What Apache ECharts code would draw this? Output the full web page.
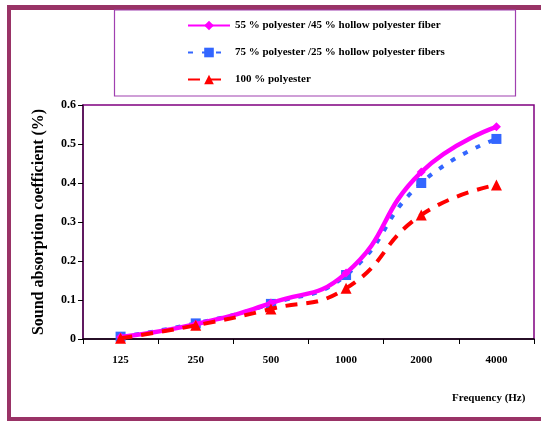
<!DOCTYPE html>
<html>
<head>
<meta charset="utf-8">
<script src="https://cdn.jsdelivr.net/npm/echarts@6/dist/echarts.min.js"></script>
<style>
  html, body { margin: 0; padding: 0; background: #fff; }
  #myChart { width: 541px; height: 421px; }
</style>
</head>
<body>
<div id="myChart"></div>
<script>
// chart data
var frequencies = ["125", "250", "500", "1000", "2000", "4000"];
var blend55 = [0.005, 0.038, 0.092, 0.169, 0.428, 0.544];
var blend75 = [0.006, 0.040, 0.090, 0.164, 0.400, 0.513];
var polyester100 = [0.002, 0.035, 0.077, 0.130, 0.318, 0.395];
var seriesNames = [
  "55 % polyester /45 % hollow polyester fiber",
  "75 % polyester /25 % hollow polyester fibers",
  "100 % polyester"
];

var serif = "'Liberation Serif', 'Times New Roman', serif";
var frameColor = "#993366";

var option = {
  backgroundColor: "#fff",
  animation: false,
  textStyle: { fontFamily: serif },
  graphic: [
    // outer frame (left, top, bottom)
    { type: "rect", shape: { x: 7, y: 5, width: 4, height: 416 }, style: { fill: frameColor } },
    { type: "rect", shape: { x: 7, y: 5, width: 534, height: 5 }, style: { fill: frameColor } },
    { type: "rect", shape: { x: 7, y: 417, width: 534, height: 4 }, style: { fill: frameColor } },
    // legend box
    {
      type: "rect",
      shape: { x: 114.5, y: 10, width: 401, height: 86 },
      style: { fill: "none", stroke: "#a040b0", lineWidth: 1.2 }
    },
    {
      type: "text",
      left: 452, top: 393,
      style: { text: "Frequency (Hz)", font: "bold 11px " + serif, fill: "#000" }
    }
  ],
  legend: {
    orient: "vertical",
    left: 182,
    top: 15,
    itemWidth: 42,
    itemHeight: 12,
    itemGap: 16,
    textStyle: { fontFamily: serif, fontWeight: "bold", fontSize: 11, color: "#000", height: 13 },
    data: seriesNames
  },
  grid: {
    left: 83,
    top: 105,
    right: 7,
    bottom: 82,
    show: true,
    borderColor: "#800080",
    borderWidth: 1.5
  },
  xAxis: {
    type: "category",
    data: frequencies,
    boundaryGap: true,
    axisLine: { lineStyle: { color: "#000", width: 1.5 } },
    axisTick: { show: true, length: 5, lineStyle: { color: "#000" } },
    axisLabel: { color: "#000", fontWeight: "bold", fontSize: 11, fontFamily: serif, margin: 16 },
    splitLine: { show: false }
  },
  yAxis: {
    type: "value",
    min: 0,
    max: 0.6,
    interval: 0.1,
    name: "Sound absorption coefficient (%)",
    nameLocation: "middle",
    nameGap: 36,
    nameTextStyle: { fontFamily: serif, fontWeight: "bold", fontSize: 16, color: "#000" },
    axisLine: { show: true, lineStyle: { color: "#4b0f4b", width: 1.5 } },
    axisTick: { show: true, length: 5, lineStyle: { color: "#000" } },
    axisLabel: { color: "#000", fontWeight: "bold", fontSize: 12, fontFamily: serif, margin: 7 },
    splitLine: { show: false }
  },
  series: [
    {
      name: seriesNames[0],
      type: "line",
      smooth: true,
      data: blend55,
      symbol: "diamond",
      symbolSize: 9,
      itemStyle: { color: "#ff00ff" },
      lineStyle: { color: "#ff00ff", width: 4.5 },
      z: 4
    },
    {
      name: seriesNames[1],
      type: "line",
      smooth: true,
      data: blend75,
      symbol: "rect",
      symbolSize: 10,
      itemStyle: { color: "#3366ff" },
      lineStyle: { color: "#3366ff", width: 4, type: [5, 9] },
      z: 3
    },
    {
      name: seriesNames[2],
      type: "line",
      smooth: true,
      data: polyester100,
      symbol: "triangle",
      symbolSize: 11,
      itemStyle: { color: "#ff0000" },
      lineStyle: { color: "#ff0000", width: 4, type: [12, 9] },
      z: 5
    }
  ]
};

var myChart = echarts.init(document.getElementById("myChart"));
myChart.setOption(option);
</script>
</body>
</html>
